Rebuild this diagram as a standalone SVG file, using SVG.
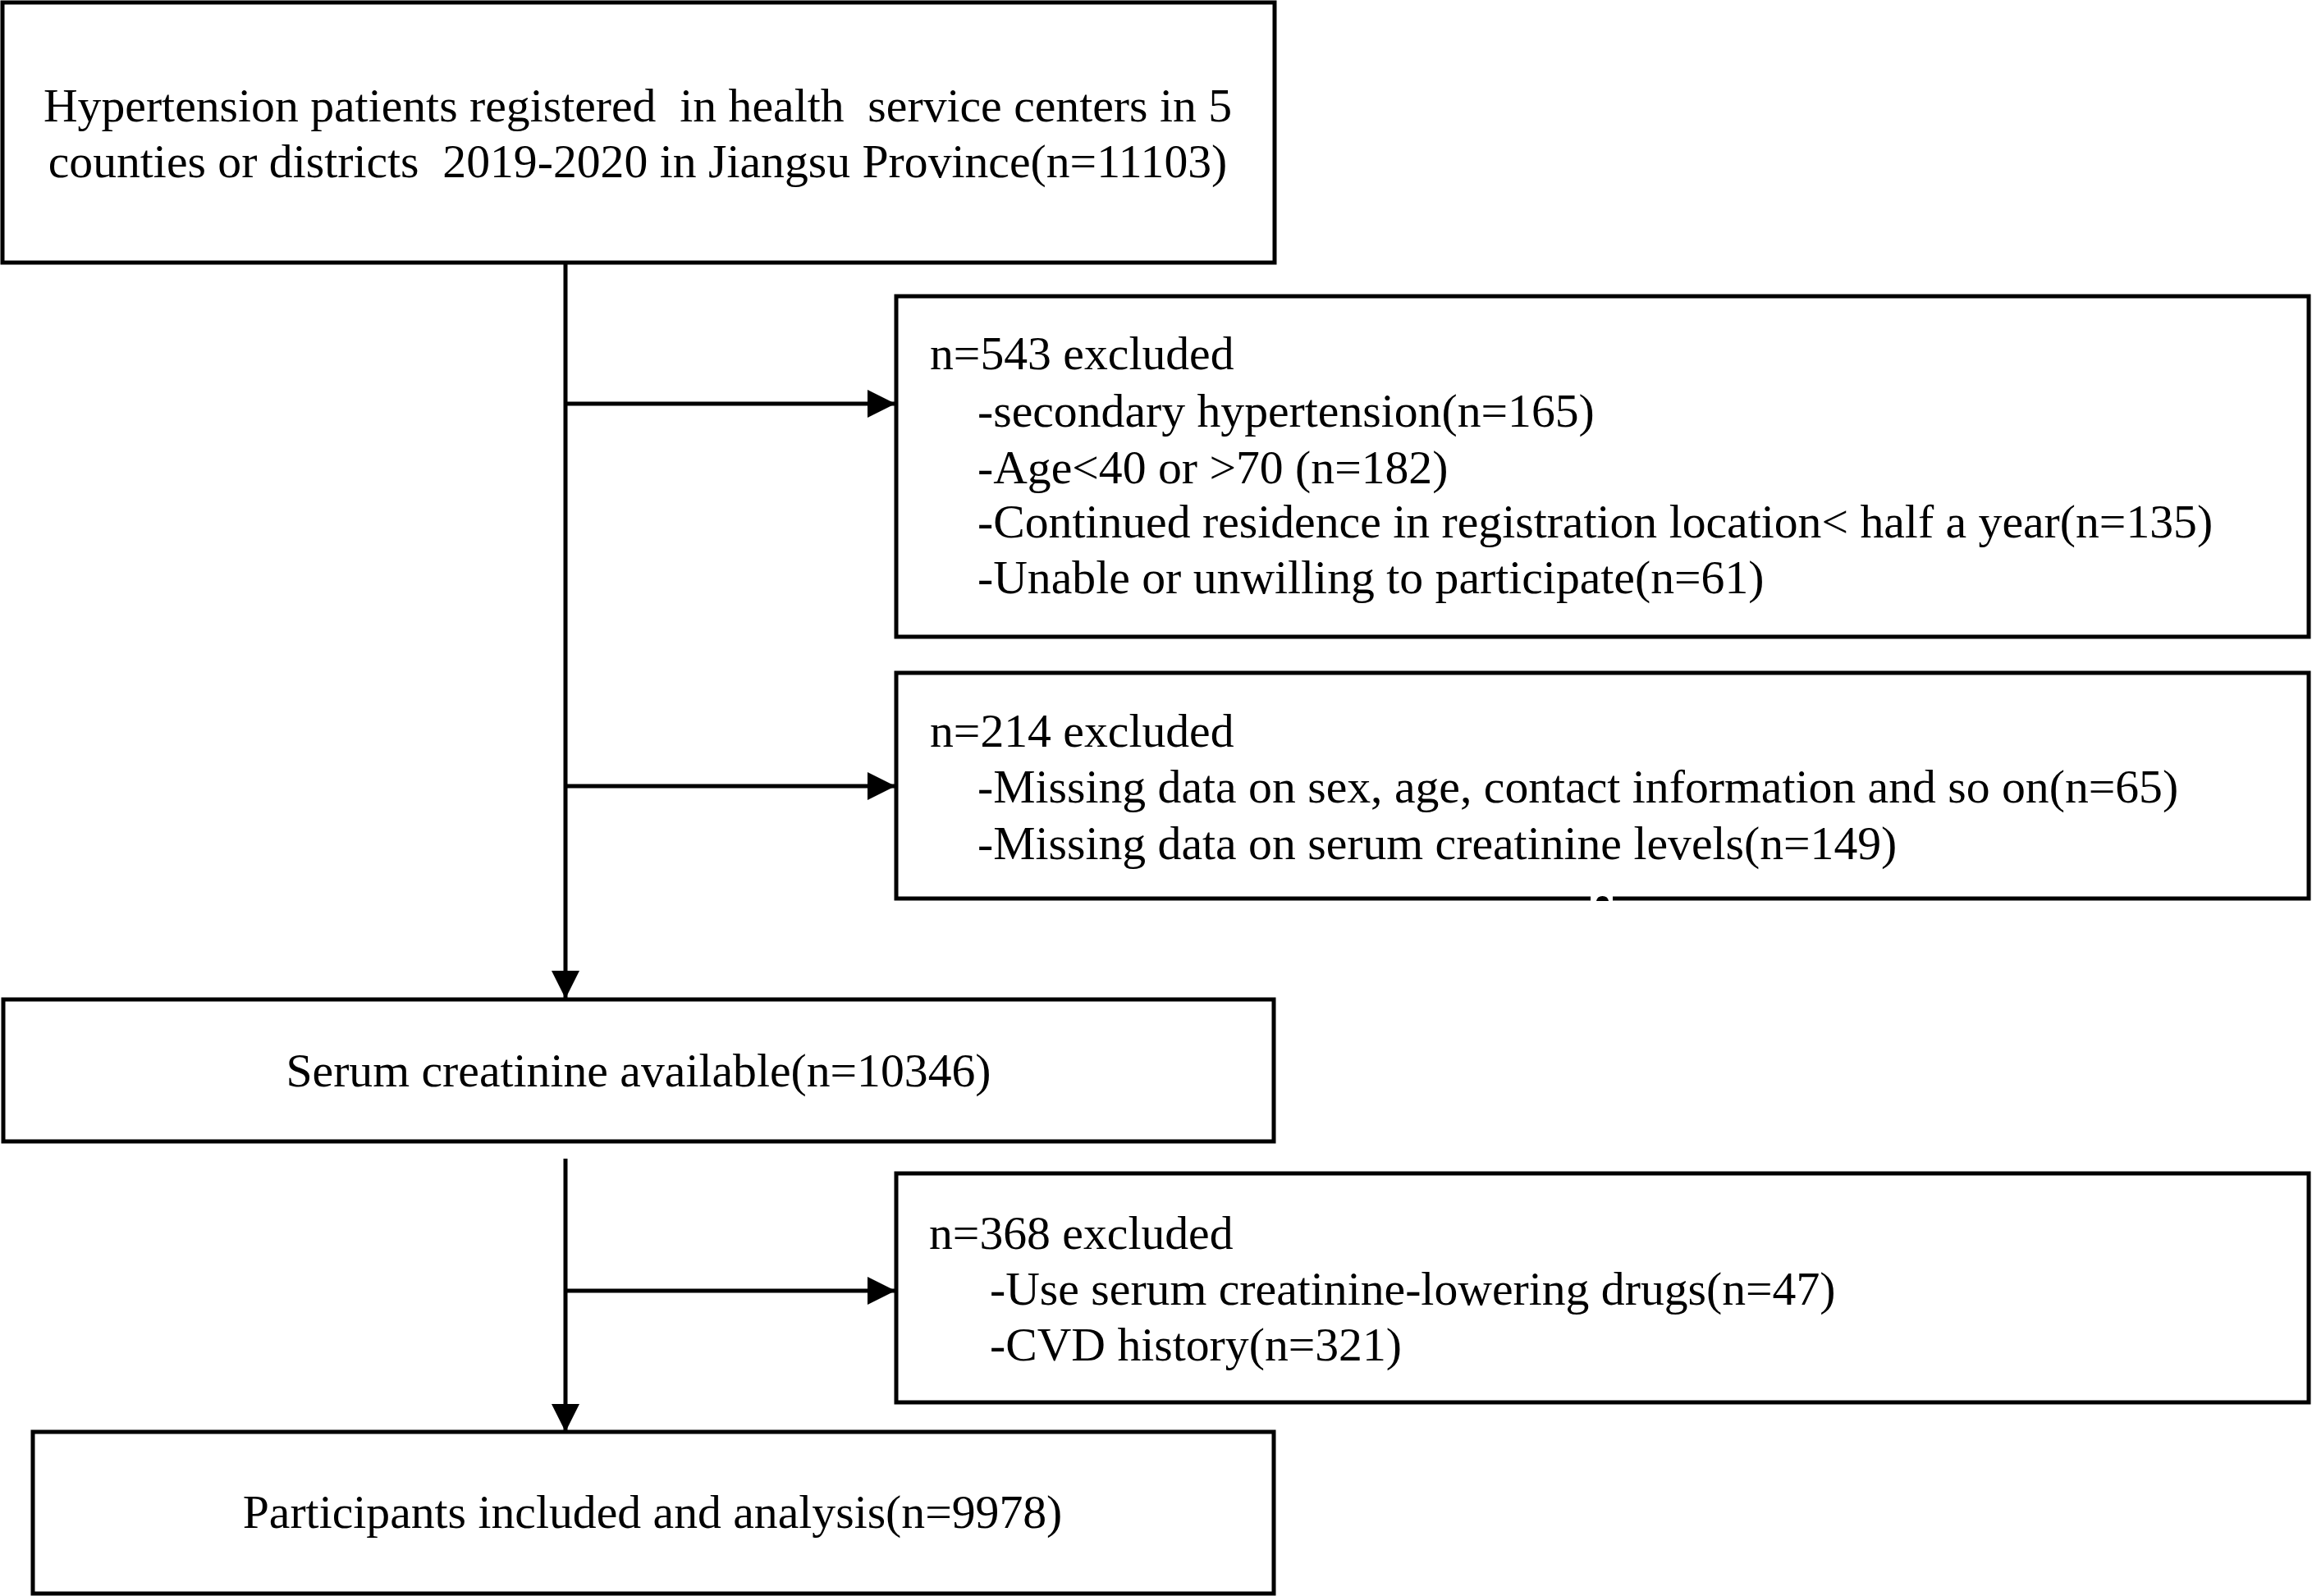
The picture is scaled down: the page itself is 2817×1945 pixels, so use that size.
<svg xmlns="http://www.w3.org/2000/svg" width="2817" height="1945" viewBox="0 0 2817 1945">
<style>
.box{fill:#fff;stroke:#000;stroke-width:5}
.t{font-family:"Liberation Serif","Times New Roman",serif;font-size:57.7px;fill:#000}
.c{text-anchor:middle}
.ln{stroke:#000;stroke-width:5;fill:none}
</style>
<defs>
<marker id="ah" markerUnits="userSpaceOnUse" markerWidth="34" markerHeight="34" refX="33" refY="17" orient="auto" viewBox="0 0 34 34">
<path d="M0,0 L34,17 L0,34 Z" fill="#000"/>
</marker>
</defs>
<rect width="2817" height="1945" fill="#fff"/>
<g id="connectors">
<line class="ln" x1="689" y1="320" x2="689" y2="1216" marker-end="url(#ah)"/>
<line class="ln" x1="689" y1="492" x2="1090" y2="492" marker-end="url(#ah)"/>
<line class="ln" x1="689" y1="958" x2="1090" y2="958" marker-end="url(#ah)"/>
<line class="ln" x1="689" y1="1412" x2="689" y2="1744" marker-end="url(#ah)"/>
<line class="ln" x1="689" y1="1573" x2="1090" y2="1573" marker-end="url(#ah)"/>
</g>
<g id="node-registered">
<rect class="box" x="3" y="3" width="1550" height="317"/>
<text class="t c" x="777" y="148" xml:space="preserve">Hypertension patients registered  in health  service centers in 5</text>
<text class="t c" x="777" y="216" xml:space="preserve">counties or districts  2019-2020 in Jiangsu Province(n=11103)</text>
</g>
<g id="node-excluded-543">
<rect class="box" x="1092" y="361" width="1721" height="415"/>
<text class="t" x="1133" y="450">n=543 excluded</text>
<text class="t" x="1191" y="520">-secondary hypertension(n=165)</text>
<text class="t" x="1191" y="589">-Age&lt;40 or &gt;70 (n=182)</text>
<text class="t" x="1191" y="655">-Continued residence in registration location&lt; half a year(n=135)</text>
<text class="t" x="1191" y="723">-Unable or unwilling to participate(n=61)</text>
</g>
<g id="node-excluded-214">
<rect class="box" x="1092" y="820" width="1721" height="275"/>
<text class="t" x="1133" y="910">n=214 excluded</text>
<text class="t" x="1191" y="978">-Missing data on sex, age, contact information and so on(n=65)</text>
<text class="t" x="1191" y="1047">-Missing data on serum creatinine levels(n=149)</text>
<rect x="1938" y="1090" width="27" height="10" fill="#fff"/>
<path d="M1945,1098 Q1946,1092 1952.5,1092 Q1959,1092 1960,1098 Z" fill="#000"/>
</g>
<g id="node-serum">
<rect class="box" x="4" y="1218" width="1548" height="173"/>
<text class="t c" x="778" y="1324">Serum creatinine available(n=10346)</text>
</g>
<g id="node-excluded-368">
<rect class="box" x="1092" y="1430" width="1721" height="279"/>
<text class="t" x="1132" y="1522">n=368 excluded</text>
<text class="t" x="1206" y="1590">-Use serum creatinine-lowering drugs(n=47)</text>
<text class="t" x="1206" y="1658">-CVD history(n=321)</text>
</g>
<g id="node-participants">
<rect class="box" x="40" y="1745" width="1512" height="197"/>
<text class="t c" x="795" y="1862">Participants included and analysis(n=9978)</text>
</g>
</svg>
